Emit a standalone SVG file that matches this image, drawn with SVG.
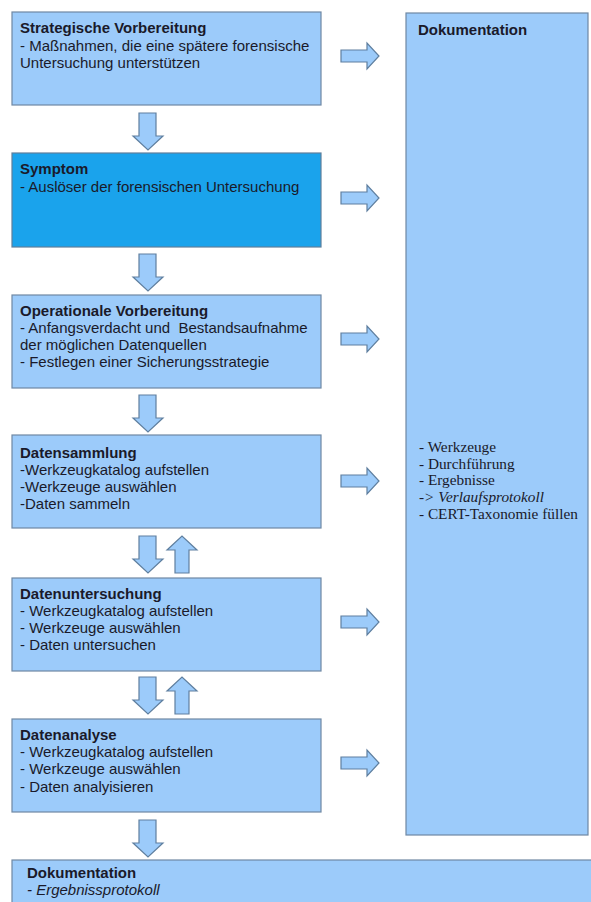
<svg xmlns="http://www.w3.org/2000/svg" width="591" height="902" viewBox="0 0 591 902">
<style>
.box{fill:#9ccbfa;stroke:#6f88a3;stroke-width:1.2}
.sym{fill:#1aa3ec;stroke:#5f7f9c;stroke-width:1.2}
.arr{fill:#9ccbfa;stroke:#5f7f9f;stroke-width:1.2;stroke-linejoin:miter}
text{font-family:"Liberation Sans",Arial,sans-serif;font-size:15px;fill:#1a1a2a}
.t{font-weight:bold}
.s{font-family:"Liberation Serif","Times New Roman",serif;font-size:15.3px}
.i{font-style:italic}
</style>
<defs>
<path id="down" d="M-9,0 H8 V23 H15 L0,37 L-15,23 H-9 Z"/>
<path id="up" d="M-7,37 H7 V14 H15 L0,0 L-15,14 H-7 Z"/>
<path id="right" d="M0,-6 H26 V-13 L38,0 L26,13 V6 H0 Z"/>
</defs>
<rect width="591" height="902" fill="#ffffff"/>

<g id="n-doc-side">
<rect class="box" x="406" y="13" width="182" height="822"/>
<text class="t" x="418" y="35">Dokumentation</text>
<text class="s" x="419" y="452">- Werkzeuge</text>
<text class="s" x="419" y="469">- Durchführung</text>
<text class="s" x="419" y="485">- Ergebnisse</text>
<text class="s i" x="419" y="502">-&gt; Verlaufsprotokoll</text>
<text class="s" x="419" y="519">- CERT-Taxonomie füllen</text>
</g>

<g id="n-strategisch">
<rect class="box" x="12" y="12" width="309" height="93"/>
<text class="t" x="20" y="33">Strategische Vorbereitung</text>
<text x="20" y="51">- Maßnahmen, die eine spätere forensische</text>
<text x="20" y="68">Untersuchung unterstützen</text>
</g>

<g id="n-symptom">
<rect class="sym" x="12" y="153" width="309" height="94"/>
<text class="t" x="20" y="174">Symptom</text>
<text x="20" y="192">- Auslöser der forensischen Untersuchung</text>
</g>

<g id="n-operational">
<rect class="box" x="12" y="295" width="309" height="93"/>
<text class="t" x="20" y="316">Operationale Vorbereitung</text>
<text x="20" y="333" xml:space="preserve">- Anfangsverdacht und  Bestandsaufnahme</text>
<text x="20" y="350">der möglichen Datenquellen</text>
<text x="20" y="367">- Festlegen einer Sicherungsstrategie</text>
</g>

<g id="n-sammlung">
<rect class="box" x="12" y="435" width="309" height="93"/>
<text class="t" x="20" y="458">Datensammlung</text>
<text x="20" y="475">-Werkzeugkatalog aufstellen</text>
<text x="20" y="492">-Werkzeuge auswählen</text>
<text x="20" y="509">-Daten sammeln</text>
</g>

<g id="n-untersuchung">
<rect class="box" x="12" y="578" width="309" height="93"/>
<text class="t" x="20" y="599">Datenuntersuchung</text>
<text x="20" y="616">- Werkzeugkatalog aufstellen</text>
<text x="20" y="633">- Werkzeuge auswählen</text>
<text x="20" y="650">- Daten untersuchen</text>
</g>

<g id="n-analyse">
<rect class="box" x="12" y="719" width="309" height="93"/>
<text class="t" x="20" y="740">Datenanalyse</text>
<text x="20" y="757">- Werkzeugkatalog aufstellen</text>
<text x="20" y="774">- Werkzeuge auswählen</text>
<text x="20" y="792">- Daten analyisieren</text>
</g>

<g id="n-doc-bottom">
<rect class="box" x="12" y="860" width="590" height="60"/>
<text class="t" x="27" y="878">Dokumentation</text>
<text class="i" x="27" y="895">- Ergebnissprotokoll</text>
</g>

<g id="connectors">
<use href="#down" class="arr" x="148" y="113"/>
<use href="#down" class="arr" x="148" y="254"/>
<use href="#down" class="arr" x="148" y="395"/>
<use href="#down" class="arr" x="148" y="536"/>
<use href="#up" class="arr" x="182" y="536"/>
<use href="#down" class="arr" x="148" y="677"/>
<use href="#up" class="arr" x="182" y="677"/>
<use href="#down" class="arr" x="148" y="820"/>
<use href="#right" class="arr" x="341" y="56"/>
<use href="#right" class="arr" x="341" y="198"/>
<use href="#right" class="arr" x="341" y="339"/>
<use href="#right" class="arr" x="341" y="481"/>
<use href="#right" class="arr" x="341" y="622"/>
<use href="#right" class="arr" x="341" y="763"/>
</g>
</svg>
